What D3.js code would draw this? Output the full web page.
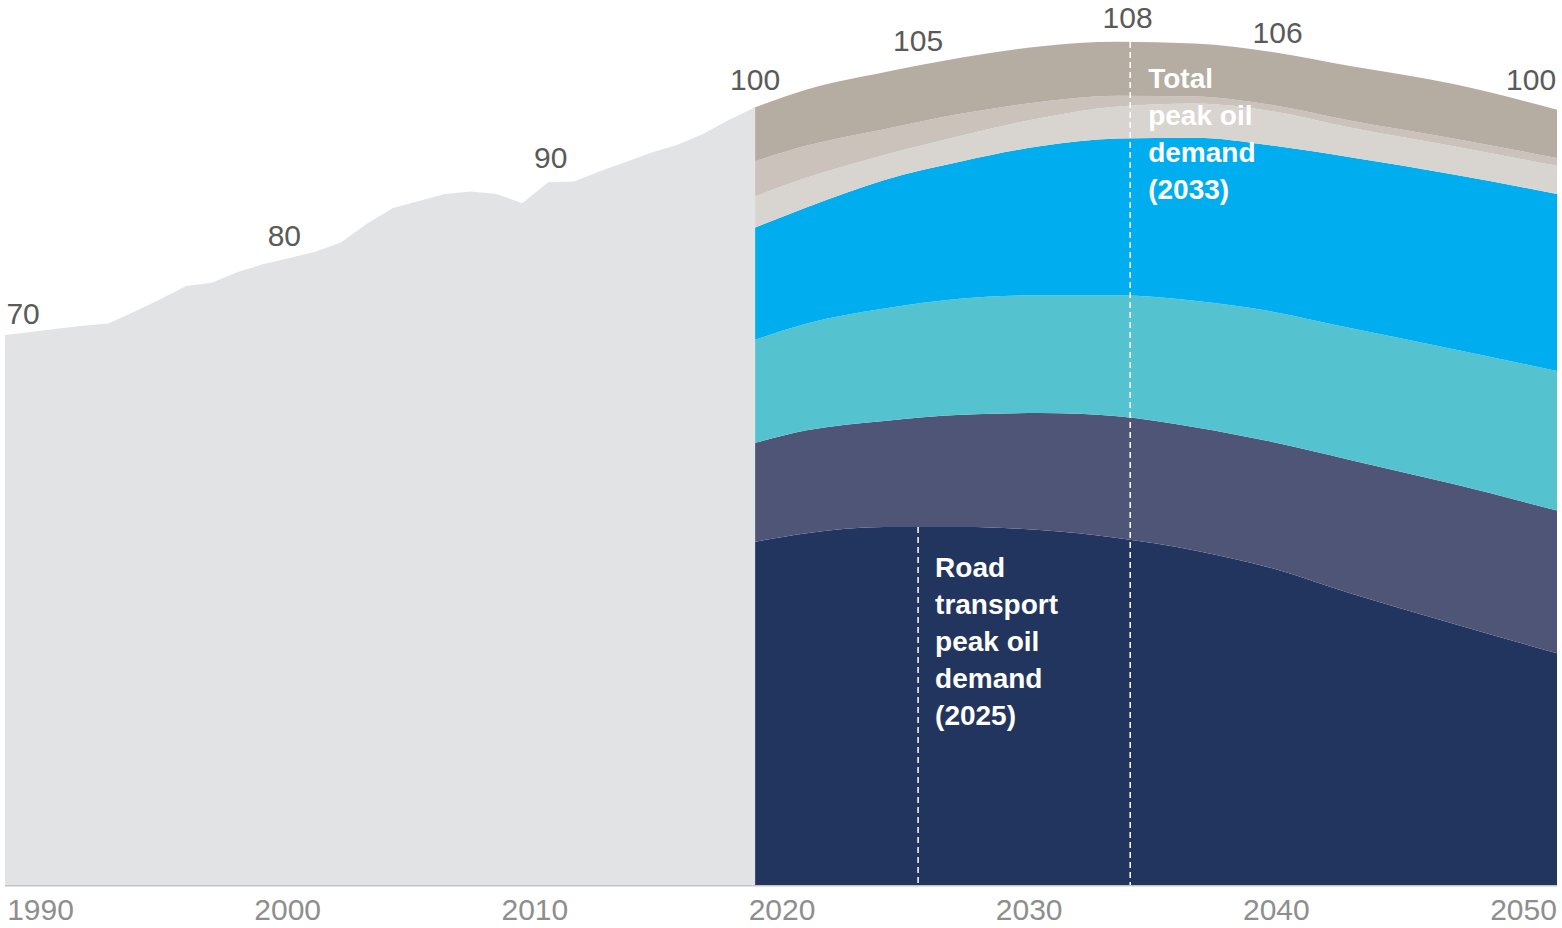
<!DOCTYPE html>
<html lang="en">
<head>
  <meta charset="UTF-8" />
  <title>Oil demand</title>
  <style>
    body {
      margin: 0;
      background: white;
      font-family: "Liberation Sans", Arial, sans-serif;
    }
    .value-label { font-size: 30px; fill: #5a5a5a; }
    .tick text { font-size: 30px; fill: #8e8e8e; font-family: "Liberation Sans", Arial, sans-serif; }
    .note { font-size: 28px; font-weight: bold; fill: #ffffff; }
  </style>
</head>
<body>
  <svg width="1562" height="928"></svg>

  <script src="https://d3js.org/d3.v7.min.js"></script>
  <script>
    // historical demand, index 2019 = 100
    const histYears = [1990, 1991, 1992, 1993, 1994, 1995, 1996, 1997, 1998, 1999,
                       2000, 2001, 2002, 2003, 2004, 2005, 2006, 2007, 2008, 2009,
                       2010, 2011, 2012, 2013, 2014, 2015, 2016, 2017, 2018, 2019];
    const histValues = [70.5, 70.9, 71.3, 71.7, 72.0, 73.5, 75.1, 76.8, 77.2, 78.6,
                        79.6, 80.4, 81.2, 82.4, 84.8, 86.8, 87.7, 88.6, 88.9, 88.6,
                        87.4, 90.1, 90.2, 91.5, 92.7, 93.9, 94.9, 96.3, 98.1, 99.7];

    // projection, stacked from the bottom
    const projYears = [2019, 2021, 2024, 2027, 2030, 2033, 2036, 2039, 2042, 2046, 2050];
    const road      = [44.0, 45.1, 45.9, 45.9, 45.5, 44.5, 42.9, 40.6, 37.4, 33.5, 29.7];
    const layer2    = [12.7, 13.2, 13.6, 14.4, 15.0, 15.6, 15.8, 16.2, 17.1, 17.9, 18.3];
    const layer3    = [13.2, 13.7, 14.4, 14.9, 15.1, 15.5, 16.2, 16.7, 16.9, 17.3, 17.9];
    const layer4    = [14.4, 14.9, 16.5, 17.6, 19.1, 20.1, 20.9, 21.3, 21.9, 22.4, 22.7];
    const layer5    = [4.0, 3.8, 3.2, 3.3, 3.6, 4.1, 4.4, 4.4, 3.8, 3.6, 3.6];
    const layer6    = [4.5, 4.1, 3.3, 2.8, 2.1, 1.4, 0.9, 0.8, 0.9, 1.0, 1.0];
    const layer7    = [6.9, 7.2, 7.3, 7.2, 7.1, 6.9, 6.8, 6.8, 7.0, 7.0, 6.2];
    const layerKeys = ["road", "layer2", "layer3", "layer4", "layer5", "layer6", "layer7"];
    const layerColors = ["#22355e", "#4e5576", "#54c3cf", "#00adef", "#d8d4d0", "#cac2bb", "#b5aca2"];

    const tickYears = [1990, 2000, 2010, 2020, 2030, 2040, 2050];

    const labelYears  = [1990.7, 2000.8, 2011.1, 2019.0, 2025.3, 2033.4, 2039.2, 2049.0];
    const labelValues = [70, 80, 90, 100, 105, 108, 106, 100];

    const roadPeakYear = 2025.3;
    const totalPeakYear = 2033.5;
    const roadNote = ["Road", "transport", "peak oil", "demand", "(2025)"];
    const totalNote = ["Total", "peak oil", "demand", "(2033)"];

    const svg = d3.select("svg");

    const x = d3.scaleLinear().domain([1990, 2050]).range([5, 1557]);
    const y = d3.scaleLinear().domain([0, 100]).range([885, 105]);
    // year labels are set inside the plot edges
    const xLabel = d3.scaleLinear().domain([1990, 2050]).range([40, 1523]);

    // baseline
    svg.append("line")
      .attr("x1", x(1990)).attr("x2", x(2050))
      .attr("y1", y(0) + 0.5).attr("y2", y(0) + 0.5)
      .attr("stroke", "#c4c4c4")
      .attr("stroke-width", 2);

    const hist = histYears.map((yr, i) => ({ year: yr, value: histValues[i] }));
    svg.append("path")
      .datum(hist)
      .attr("fill", "#e2e3e5")
      .attr("d", d3.area()
        .x(d => x(d.year))
        .y0(y(0))
        .y1(d => y(d.value)));

    const series = [road, layer2, layer3, layer4, layer5, layer6, layer7];
    const proj = projYears.map((yr, i) => {
      const row = { year: yr };
      layerKeys.forEach((k, j) => row[k] = series[j][i]);
      return row;
    });
    const stacked = d3.stack().keys(layerKeys)(proj);

    svg.selectAll("path.layer")
      .data(stacked)
      .join("path")
        .attr("class", "layer")
        .attr("fill", (d, i) => layerColors[i])
        .attr("d", d3.area()
          .curve(d3.curveMonotoneX)
          .x(d => x(d.data.year))
          .y0(d => y(d[0]))
          .y1(d => y(d[1])));

    // value at a year along a stack boundary
    function topAt(layer, year) {
      const i = Math.max(1, d3.bisectLeft(projYears, year));
      const a = layer[i - 1], b = layer[i];
      const t = (year - a.data.year) / (b.data.year - a.data.year);
      return a[1] + (b[1] - a[1]) * t;
    }

    const roadTop = topAt(stacked[0], roadPeakYear);
    const totalTop = topAt(stacked[stacked.length - 1], totalPeakYear);

    [[roadPeakYear, roadTop], [totalPeakYear, totalTop]].forEach(([yr, v]) => {
      svg.append("line")
        .attr("x1", x(yr)).attr("x2", x(yr))
        .attr("y1", y(v)).attr("y2", y(0))
        .attr("stroke", "white")
        .attr("stroke-width", 1.5)
        .attr("stroke-dasharray", "6,4");
    });

    function note(lines, x0, y0) {
      const t = svg.append("text").attr("class", "note");
      lines.forEach((s, i) => {
        t.append("tspan").attr("x", x0).attr("y", y0 + i * 37).text(s);
      });
    }
    note(roadNote, x(roadPeakYear) + 17, y(roadTop) + 50);
    note(totalNote, x(totalPeakYear) + 18, y(totalTop) + 46);

    svg.selectAll("text.value-label")
      .data(labelValues)
      .join("text")
        .attr("class", "value-label")
        .attr("text-anchor", "middle")
        .attr("x", (d, i) => x(labelYears[i]))
        .attr("y", d => y(d) - 15)
        .text(d => d);

    const axis = svg.append("g")
      .attr("transform", `translate(0,${y(0)})`)
      .call(d3.axisBottom(xLabel)
        .tickValues(tickYears)
        .tickFormat(d3.format("d"))
        .tickSize(0));
    axis.select(".domain").remove();
    axis.selectAll(".tick text").attr("y", 14);
  </script>
</body>
</html>
